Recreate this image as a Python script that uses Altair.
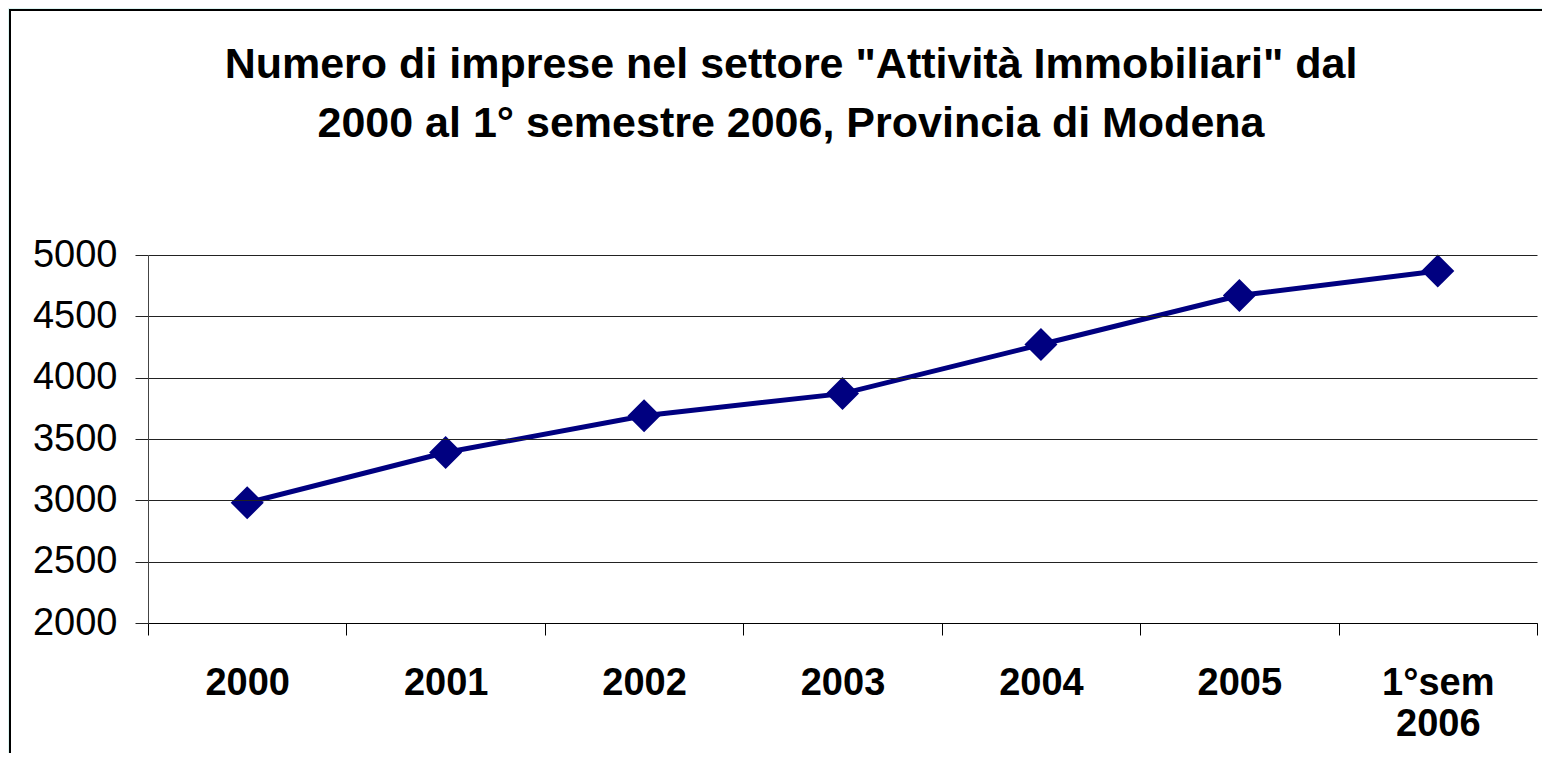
import altair as alt
import pandas as pd

# ---- data ----
categories = ["2000", "2001", "2002", "2003", "2004", "2005", "1°sem 2006"]
imprese = [2980, 3390, 3690, 3870, 4270, 4670, 4870]
y_ticks = [2000, 2500, 3000, 3500, 4000, 4500, 5000]
title_line1 = 'Numero di imprese nel settore "Attività Immobiliari" dal'
title_line2 = "2000 al 1° semestre 2006, Provincia di Modena"

df = pd.DataFrame({"periodo": categories, "imprese": imprese})

W, H = 1389, 368
PAD_L, PAD_T = 140, 247
NAVY = "#000080"
FONT = "Liberation Sans"

x_enc = alt.X(
    "periodo:N",
    sort=categories,
    title=None,
    scale=alt.Scale(paddingInner=0, paddingOuter=0),
    axis=alt.Axis(
        labelAngle=0,
        labelFont=FONT,
        labelFontWeight="bold",
        labelFontSize=38,
        labelColor="black",
        labelPadding=29,
        labelLineHeight=41,
        labelExpr="datum.label == '1°sem 2006' ? ['1°sem', '2006'] : datum.label",
        tickBand="extent",
        tickSize=12,
        tickColor="black",
        domainColor="black",
        grid=False,
        zindex=1,
    ),
)
y_enc = alt.Y(
    "imprese:Q",
    title=None,
    scale=alt.Scale(domain=[2000, 5000], nice=False, zero=False),
    axis=alt.Axis(
        values=y_ticks,
        format="d",
        labelFont=FONT,
        labelFontSize=38,
        labelColor="black",
        labelPadding=18,
        tickSize=13,
        tickColor="#222222",
        domainColor="#444444",
        gridColor="#222222",
        gridWidth=1,
        grid=True,
        zindex=1,
    ),
)

one = pd.DataFrame({"k": [0]})

frame = alt.Chart(one).mark_rect(
    fill="white", stroke="black", strokeWidth=2
).encode(
    x=alt.value(-PAD_L + 2), x2=alt.value(W + 80),
    y=alt.value(-PAD_T + 2), y2=alt.value(H + 200),
)

t1 = alt.Chart(one).mark_text(
    text=title_line1, font=FONT, fontWeight="bold", fontSize=43,
    align="center", baseline="alphabetic", color="black",
).encode(x=alt.value(643), y=alt.value(-177))

t2 = alt.Chart(one).mark_text(
    text=title_line2, font=FONT, fontWeight="bold", fontSize=43,
    align="center", baseline="alphabetic", color="black",
).encode(x=alt.value(643), y=alt.value(-118))

line = alt.Chart(df).mark_line(color=NAVY, strokeWidth=5).encode(x=x_enc, y=y_enc)
pts = alt.Chart(df).mark_point(
    shape="diamond", size=1090, filled=True, color=NAVY, opacity=1
).encode(x=x_enc, y=y_enc)

chart = alt.layer(frame, t1, t2, line, pts).properties(
    width=W,
    height=H,
    padding={"left": PAD_L, "top": PAD_T, "right": 5, "bottom": 130},
    autosize=alt.AutoSizeParams(type="none"),
    background="#DDF5F2",
).configure_view(stroke=None)

chart.save("out.html", embed_options={"renderer": "svg", "actions": False})
